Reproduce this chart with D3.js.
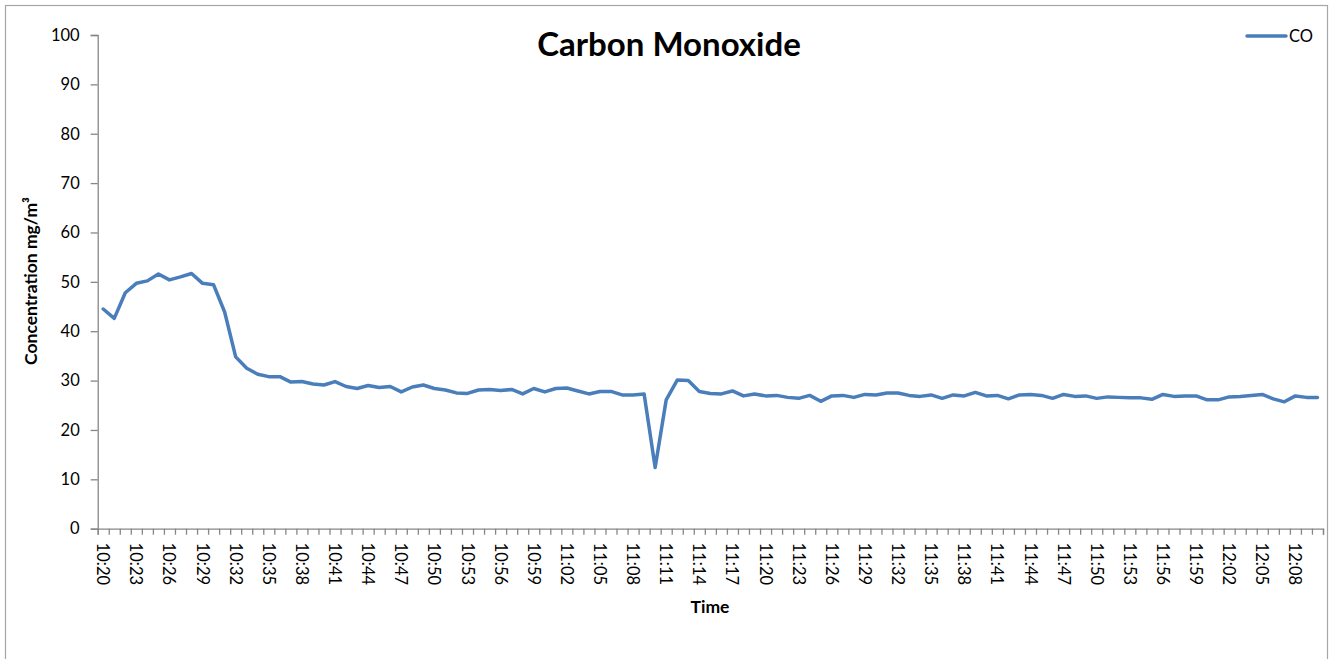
<!DOCTYPE html>
<html>
<head>
<meta charset="utf-8">
<script src="https://cdn.jsdelivr.net/npm/d3@7"></script>
<style>
  html, body { margin: 0; padding: 0; background: #fff; }
  svg { display: block; font-family: Lato, "Open Sans", sans-serif; }
</style>
</head>
<body>
<svg id="chart" width="1330" height="659"></svg>
<script>
// ---- data ----
const categories = [];
(function () {
  let h = 10, m = 20;
  for (let i = 0; i < 111; i++) {
    categories.push(h + ":" + String(m).padStart(2, "0"));
    m++; if (m === 60) { m = 0; h++; }
  }
})();
const coValues = [
  44.5, 42.6, 47.8, 49.7, 50.2, 51.6, 50.4, 51.0, 51.7, 49.7,
  49.4, 43.9, 34.8, 32.5, 31.3, 30.8, 30.8, 29.7, 29.8, 29.3,
  29.1, 29.8, 28.8, 28.4, 29.0, 28.6, 28.8, 27.7, 28.7, 29.1,
  28.4, 28.1, 27.5, 27.4, 28.1, 28.2, 28.0, 28.2, 27.3, 28.4,
  27.7, 28.4, 28.5, 27.9, 27.3, 27.8, 27.8, 27.1, 27.1, 27.3,
  12.4, 26.1, 30.1, 30.0, 27.8, 27.4, 27.3, 27.9, 26.9, 27.3,
  26.9, 27.0, 26.6, 26.4, 27.0, 25.8, 26.9, 27.0, 26.6, 27.2,
  27.1, 27.5, 27.5, 27.0, 26.8, 27.1, 26.4, 27.1, 26.9, 27.6,
  26.9, 27.0, 26.3, 27.1, 27.2, 27.0, 26.4, 27.2, 26.8, 26.9,
  26.4, 26.7, 26.6, 26.5, 26.5, 26.2, 27.2, 26.8, 26.9, 26.9,
  26.1, 26.1, 26.7, 26.8, 27.0, 27.2, 26.3, 25.7, 26.9, 26.6,
  26.6
];
const yTicks = [0, 10, 20, 30, 40, 50, 60, 70, 80, 90, 100];
const seriesName = "CO";
const titleText = "Carbon Monoxide";
const xTitle = "Time";
const yTitle = "Concentration mg/m³";

// ---- layout ----
const svg = d3.select("#chart");
const plotLeft = 97.7, plotRight = 1323, plotTop = 35, plotBottom = 528.7;
const axisColor = "#868686";
const lineColor = "#4a7ebb";

svg.append("rect").attr("x", 5.5).attr("y", 5.5).attr("width", 1322).attr("height", 660)
  .attr("fill", "#fff").attr("stroke", "#a6a6a6").attr("stroke-width", 1.2);

const x = d3.scaleBand().domain(categories).range([plotLeft, plotRight]).padding(0);
const xIdx = d3.scaleLinear().domain([0, categories.length]).range([plotLeft, plotRight]);
const y = d3.scaleLinear().domain([0, 100]).range([plotBottom, plotTop]);

// y axis
const yAxis = svg.append("g").attr("transform", `translate(${plotLeft},0)`)
  .call(d3.axisLeft(y).tickValues(yTicks).tickSize(7).tickPadding(11));
yAxis.select(".domain").attr("stroke", axisColor).attr("stroke-width", 1.3);
yAxis.selectAll(".tick line").attr("stroke", axisColor).attr("stroke-width", 1.3);
yAxis.selectAll("text").attr("font-size", 16.5).attr("fill", "#000")
  .attr("font-family", "Lato, sans-serif");

// x axis tick marks (category boundaries)
const xTicksG = svg.append("g").attr("transform", `translate(0,${plotBottom})`)
  .call(d3.axisBottom(xIdx).tickValues(d3.range(categories.length + 1)).tickSize(6).tickFormat(""));
xTicksG.select(".domain").attr("stroke", axisColor).attr("stroke-width", 1.3);
xTicksG.selectAll(".tick line").attr("stroke", axisColor).attr("stroke-width", 1.3);

// x labels
const labelCats = categories.filter((d, i) => i % 3 === 0 && i < 109);
const xLab = svg.append("g").attr("transform", `translate(0,${plotBottom})`)
  .call(d3.axisBottom(x).tickValues(labelCats).tickSize(0));
xLab.select(".domain").remove();
xLab.selectAll("text")
  .attr("transform", "rotate(90)")
  .attr("x", 14).attr("y", 0).attr("dy", "0.36em")
  .attr("text-anchor", "start")
  .attr("font-size", 16.5).attr("fill", "#000")
  .attr("font-family", "Lato, sans-serif");

// line
const line = d3.line()
  .x((d, i) => x(categories[i]) + x.bandwidth() / 2)
  .y(d => y(d));
svg.append("path").datum(coValues)
  .attr("d", line).attr("fill", "none")
  .attr("stroke", lineColor).attr("stroke-width", 3.5)
  .attr("stroke-linejoin", "round").attr("stroke-linecap", "round");

// titles
svg.append("text").attr("x", 669).attr("y", 56).attr("text-anchor", "middle")
  .attr("font-size", 33).attr("font-weight", "bold").attr("fill", "#000").text(titleText);
svg.append("text").attr("x", 710).attr("y", 613).attr("text-anchor", "middle")
  .attr("font-size", 17.5).attr("font-weight", "bold").attr("fill", "#000").text(xTitle);
svg.append("text").attr("transform", "translate(37,281) rotate(-90)").attr("text-anchor", "middle")
  .attr("font-size", 17.5).attr("font-weight", "bold").attr("fill", "#000").text(yTitle);

// legend
svg.append("line").attr("x1", 1247).attr("x2", 1286).attr("y1", 36).attr("y2", 36)
  .attr("stroke", lineColor).attr("stroke-width", 3.5).attr("stroke-linecap", "round");
svg.append("text").attr("x", 1289).attr("y", 42).attr("font-size", 16.5).attr("fill", "#000").text(seriesName);
</script>
</body>
</html>
